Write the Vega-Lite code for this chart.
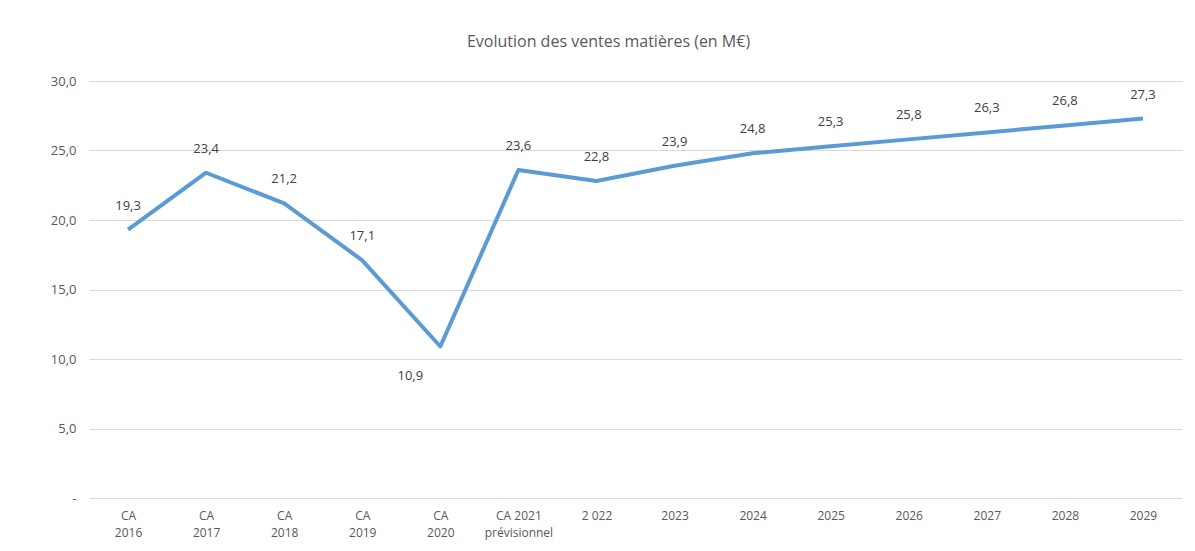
{
  "$schema": "https://vega.github.io/schema/vega-lite/v6.json",
  "width": 1093,
  "height": 417,
  "autosize": "none",
  "padding": {"left": 89, "top": 81, "right": 13, "bottom": 53},
  "background": "white",
  "title": {
    "text": "Evolution des ventes matières (en M€)",
    "anchor": "middle",
    "frame": "group",
    "dx": -27,
    "offset": 25,
    "font": "Open Sans",
    "fontSize": 16,
    "fontWeight": "normal",
    "color": "#595959"
  },
  "config": {
    "view": {"stroke": null},
    "font": "Open Sans",
    "locale": {"number": {"decimal": ",", "thousands": " ", "grouping": [3], "currency": ["", " €"]}}
  },
  "data": {
    "values": [
      {"cat": "CA 2016", "v": 19.3, "pos": "above"},
      {"cat": "CA 2017", "v": 23.4, "pos": "above"},
      {"cat": "CA 2018", "v": 21.2, "pos": "above"},
      {"cat": "CA 2019", "v": 17.1, "pos": "above"},
      {"cat": "CA 2020", "v": 10.9, "pos": "below"},
      {"cat": "CA 2021 prévisionnel", "v": 23.6, "pos": "above"},
      {"cat": "2 022", "v": 22.8, "pos": "above"},
      {"cat": "2023", "v": 23.9, "pos": "above"},
      {"cat": "2024", "v": 24.8, "pos": "above"},
      {"cat": "2025", "v": 25.3, "pos": "above"},
      {"cat": "2026", "v": 25.8, "pos": "above"},
      {"cat": "2027", "v": 26.3, "pos": "above"},
      {"cat": "2028", "v": 26.8, "pos": "above"},
      {"cat": "2029", "v": 27.3, "pos": "above"}
    ]
  },
  "encoding": {
    "x": {
      "field": "cat",
      "type": "nominal",
      "sort": null,
      "scale": {"paddingInner": 1, "paddingOuter": 0.5},
      "axis": {
        "title": null,
        "labelAngle": 0,
        "domain": false,
        "ticks": false,
        "labelPadding": 12,
        "labelFontSize": 12,
        "labelColor": "#595959",
        "labelLineHeight": 17,
        "labelExpr": "datum.label == 'CA 2021 prévisionnel' ? ['CA 2021', 'prévisionnel'] : (test(/^CA /, datum.label) ? split(datum.label, ' ') : datum.label)"
      }
    },
    "y": {
      "field": "v",
      "type": "quantitative",
      "scale": {"domain": [0, 30], "nice": false},
      "axis": {
        "title": null,
        "values": [0, 5, 10, 15, 20, 25, 30],
        "domain": false,
        "ticks": false,
        "labelPadding": 13,
        "labelFontSize": 13,
        "labelColor": "#595959",
        "gridColor": "#D9D9D9",
        "labelExpr": "datum.value == 0 ? '-' : replace(format(datum.value, '.1f'), '.', ',')"
      }
    }
  },
  "layer": [
    {
      "mark": {"type": "line", "color": "#5B9BD5", "strokeWidth": 4, "strokeJoin": "round"}
    },
    {
      "transform": [{"filter": "datum.pos == 'above'"}],
      "mark": {"type": "text", "dy": -24, "fontSize": 13, "color": "#404040"},
      "encoding": {"text": {"field": "v", "type": "quantitative", "format": ".1f"}}
    },
    {
      "transform": [{"filter": "datum.pos == 'below'"}],
      "mark": {"type": "text", "dy": 30, "dx": -30, "fontSize": 13, "color": "#404040"},
      "encoding": {"text": {"field": "v", "type": "quantitative", "format": ".1f"}}
    }
  ]
}
